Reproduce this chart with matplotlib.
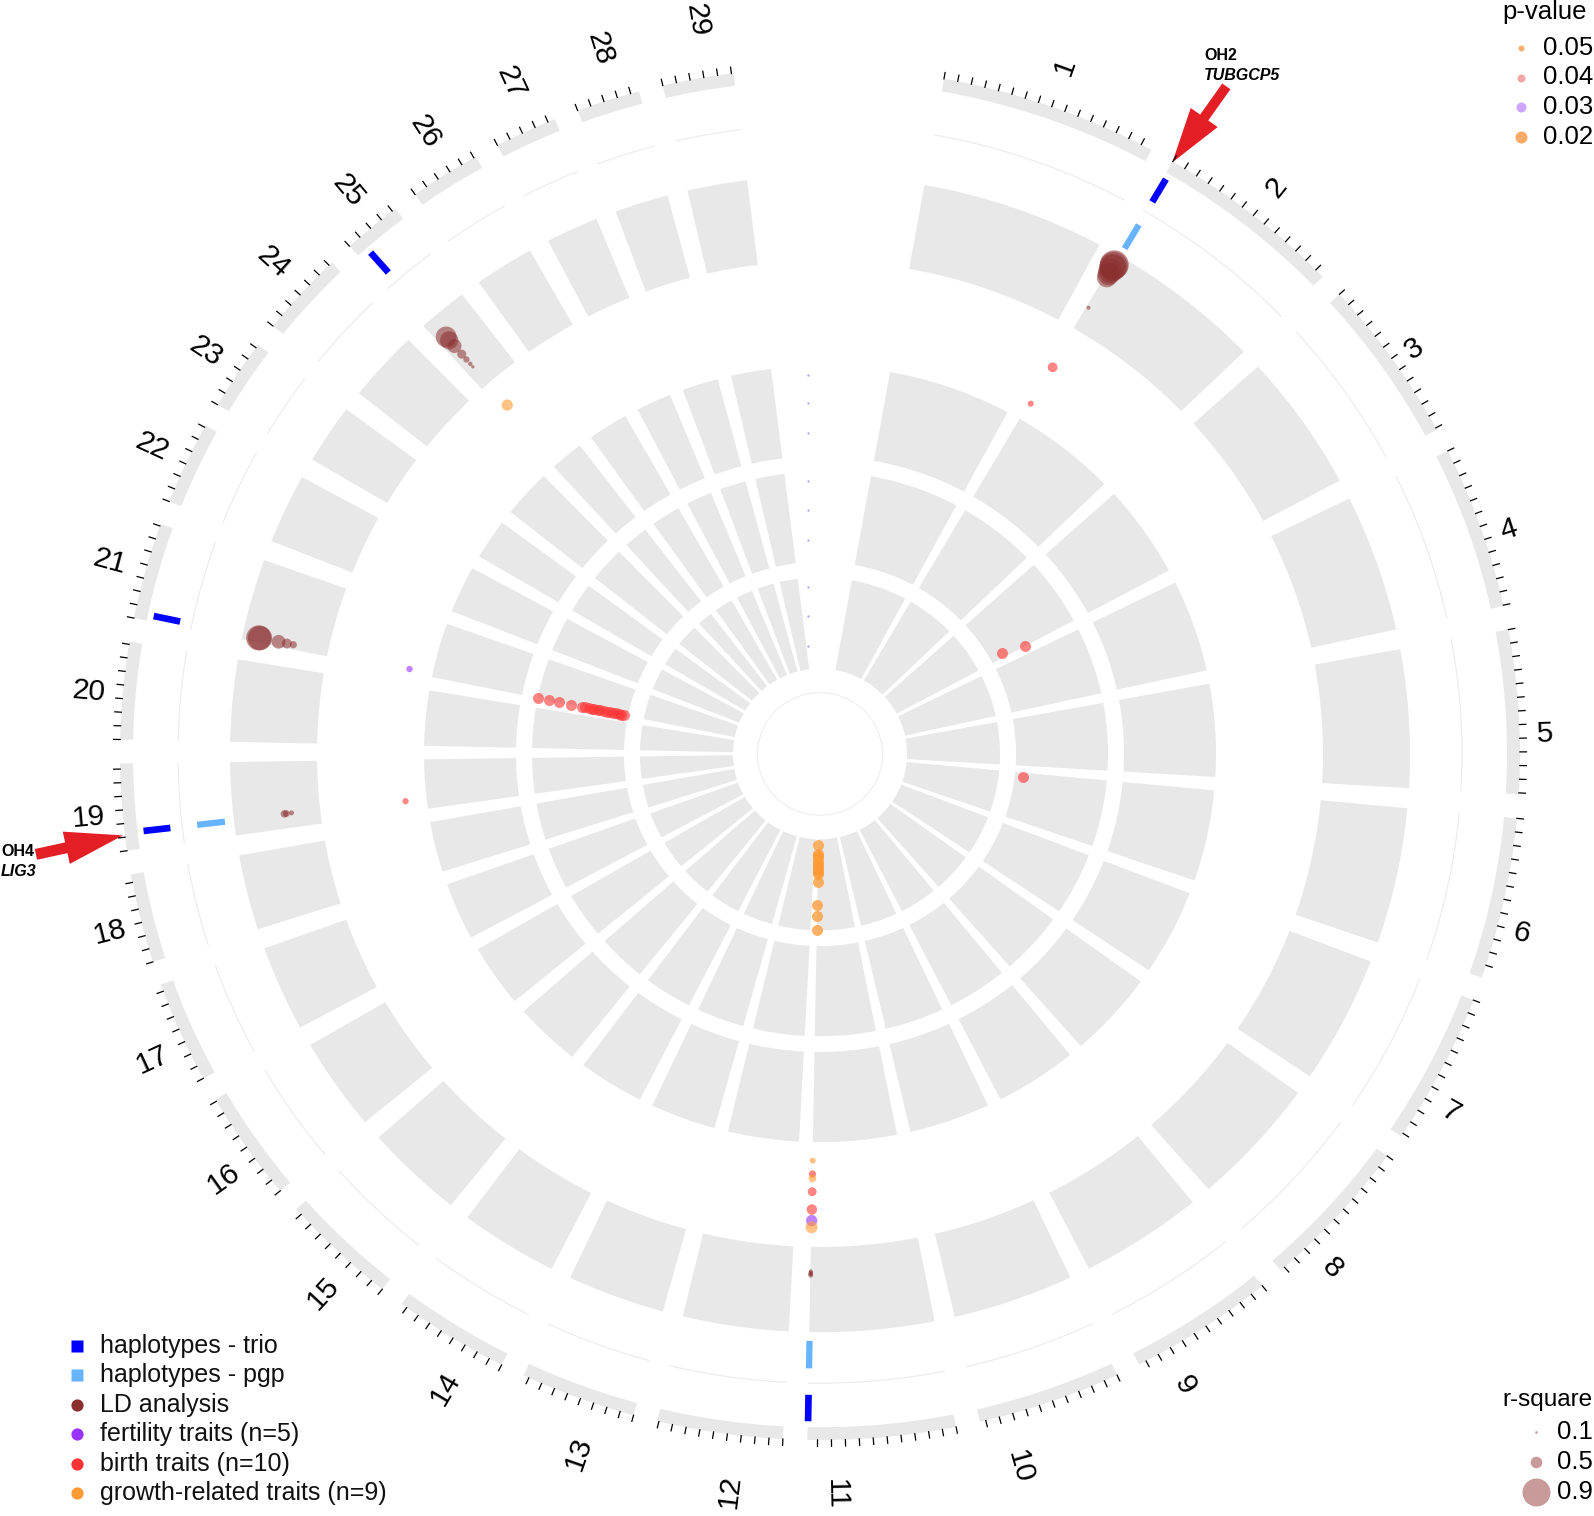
import numpy as np
import matplotlib.pyplot as plt
from matplotlib.patches import Polygon, FancyArrow

plt.rcParams['font.family'] = ['Liberation Sans', 'DejaVu Sans']

# chromosome sizes in Mb (bovine UMD3.1)
chroms = [str(i) for i in range(1, 30)]
chrom_len = [158.3, 137.1, 121.4, 120.7, 121.2, 119.5, 112.6, 113.4, 105.7, 104.3,
             107.3, 91.2, 84.2, 84.6, 85.3, 81.7, 75.2, 66.0, 64.1, 72.0,
             71.6, 61.4, 52.5, 62.7, 42.9, 51.7, 45.4, 46.3, 51.5]

# haplotypes (chromosome, position in Mb)
trio_chr = [2, 11, 19, 21, 25]
trio_pos = [2.3, 107.0, 13.0, 4.4, 8.3]
pgp_chr = [2, 11, 19]
pgp_pos = [2.6, 107.0, 13.0]

# LD analysis: chromosome, position, r-square
ld_chr = [2, 2, 2, 2, 2, 2, 2,
          25, 25, 25, 25, 25, 25, 25,
          21, 21, 21, 21, 21,
          19, 19, 19,
          11, 11, 11, 11]
ld_pos = [2.2, 2.2, 2.3, 2.1, 2.2, 2.3, 2.2,
          8.3, 8.3, 8.4, 8.4, 8.3, 8.3, 8.2,
          4.3, 4.4, 4.5, 4.5, 4.6,
          14.0, 14.1, 14.2,
          107.0, 107.0, 107.0, 107.0]
ld_r2 = [0.95, 0.93, 0.90, 0.84, 0.78, 0.72, 0.17,
         0.75, 0.68, 0.56, 0.39, 0.28, 0.19, 0.13,
         0.86, 0.84, 0.55, 0.42, 0.32,
         0.33, 0.30, 0.22,
         0.22, 0.20, 0.18, 0.16]

# single SNP associations (p-value track)
assoc_chr = [2, 2, 11, 11, 11, 11, 11, 11, 11, 19, 21, 25]
assoc_pos = [2.2, 2.2, 107.0, 107.0, 107.0, 107.0, 107.0, 107.0, 107.0, 13.0, 4.4, 8.3]
assoc_p = [0.031, 0.050, 0.050, 0.044, 0.042, 0.036, 0.028, 0.023, 0.020, 0.049, 0.048, 0.024]
assoc_trait = ['birth', 'birth', 'growth', 'birth', 'growth', 'birth', 'birth',
               'fertility', 'growth', 'birth', 'fertility', 'growth']

# inner rings: trait-level signals (scaled 0-1 within each ring)
fert_chr, fert_pos, fert_val = [], [], []
birth_chr = [21] * 19 + [3, 3, 6]
birth_pos = [0.3] * 19 + [110.0, 121.0, 10.5]
birth_val = [1.02, 0.89, 0.77, 0.63, 0.50, 0.46, 0.42, 0.38, 0.35, 0.31,
             0.28, 0.24, 0.20, 0.17, 0.13, 0.10, 0.06, 0.03, 0.0,
             0.10, 0.38, 0.05]
growth_chr = [11] * 14
growth_pos = [107.0] * 14
growth_val = [0.01, 0.12, 0.14, 0.17, 0.21, 0.23, 0.27, 0.29, 0.33, 0.36,
              0.45, 0.72, 0.85, 1.02]

COL = {'trio': '#0000FF', 'pgp': '#66B3FF', 'ld': '#8B2E2E',
       'fertility': '#9933FF', 'birth': '#FF3333', 'growth': '#FF9933'}
GRAY = '#E8E8E8'

# chromosome label placement (shift from sector middle in degrees, radius)
label_dtheta = [0.0, 0.2, 0.35, 1.0, 1.9, 2.4, 2.6, 3.35, 3.65, 3.8, 3.9,
                -1.4, -1.55, -1.8, -1.5, -1.1, -1.1, -0.5, -0.65, -0.3, -0.1,
                0.0, 0.2, 0.4, 0.4, 0.5, 0.55, 0.6, 0.74]
label_r = [743, 736, 724, 726, 725, 725, 729, 733, 740, 754, 756, 758, 754, 748,
           741, 737, 737, 733, 734, 734, 737, 738, 739, 742, 744, 748, 751, 753, 759]

W, H = 1594, 1516
cx, cy, sy = 820, 754, 0.98
gap = 2.0
start0, end_last = 10.2, 352.9
k = (end_last - start0 - gap * (len(chrom_len) - 1)) / sum(chrom_len)
starts = []
a = start0
for L in chrom_len:
    starts.append(a)
    a += L * k + gap


def ang(c, pos):
    return starts[c - 1] + np.asarray(pos) * k


def xy(r, th):
    t = np.radians(th)
    return cx + r * np.sin(t), cy - sy * r * np.cos(t)


def sector(ax, th1, th2, r1, r2, **kw):
    t = np.linspace(th1, th2, max(int(abs(th2 - th1) * 4), 2))
    xo, yo = xy(r2, t)
    xi, yi = xy(r1, t[::-1])
    ax.add_patch(Polygon(np.column_stack([np.r_[xo, xi], np.r_[yo, yi]]),
                         closed=True, **kw))


def s_px(radius):
    return (2 * np.asarray(radius) * 0.72) ** 2


fig = plt.figure(figsize=(W / 100, H / 100), dpi=100)
ax = fig.add_axes([0, 0, 1, 1])
ax.set_xlim(0, W)
ax.set_ylim(H, 0)
ax.axis('off')

# tracks
for i, L in enumerate(chrom_len):
    a1, a2 = starts[i], starts[i] + L * k
    sector(ax, a1, a2, 687, 700, fc=GRAY, ec='none')
    for r1, r2 in [(503, 590), (304, 396), (196, 288), (87, 180)]:
        sector(ax, a1, a2, r1, r2, fc=GRAY, ec='none')
    t = np.linspace(a1, a2, 100)
    ax.plot(*xy(642, t), color='#EBEBEB', lw=0.8)
    for m in np.arange(0, L, 10):
        ax.plot(*xy(np.array([700, 706.5]), ang(i + 1, m)), color='black', lw=0.9)
    # label
    th = a1 + L * k / 2 + label_dtheta[i]
    tt = np.radians(th)
    rot = np.degrees(np.arctan2(sy * np.cos(tt), np.sin(tt)))
    if rot > 90:
        rot -= 180
    elif rot <= -90:
        rot += 180
    lx, ly = xy(label_r[i], th)
    ax.text(lx, ly, chroms[i], rotation=rot, rotation_mode='anchor', ha='center',
            va='center', fontsize=21.5, color='black')

# center circle
t = np.linspace(0, 360, 300)
ax.plot(*xy(62.5, t), color='#EEEEEE', lw=0.8)

# faint axis ticks of the inner rings
for r in [387, 358, 328, 279, 249, 218, 170, 141, 110]:
    ax.scatter(cx - 12, cy - sy * r, s=3, color='#7777FF', alpha=0.6, lw=0)

# haplotypes
for c, p in zip(trio_chr, trio_pos):
    ax.plot(*xy(np.array([654, 681]), ang(c, p)), color=COL['trio'], lw=4.8,
            solid_capstyle='butt')
for c, p in zip(pgp_chr, pgp_pos):
    ax.plot(*xy(np.array([599, 627]), ang(c, p)), color=COL['pgp'], lw=4.5,
            solid_capstyle='butt')

# LD analysis
th = np.array([ang(c, p) for c, p in zip(ld_chr, ld_pos)])
r2 = np.array(ld_r2)
x, y = xy(517.5 + 65.3 * r2, th)
ax.scatter(x, y, s=s_px(1.0 + 14.5 * r2 ** 1.5), color=COL['ld'], alpha=0.55, lw=0)

# p-value track
pv = np.array(assoc_p)
th = np.array([ang(c, p) for c, p in zip(assoc_chr, assoc_pos)])
x, y = xy(415 + (0.05 - pv) / 0.03 * 68, th)
ax.scatter(x, y, s=s_px(3 + (0.05 - pv) * 100),
           color=[COL[tr] for tr in assoc_trait], alpha=0.6, lw=0)

# inner rings
for chs, pos, val, r0, trait, al in [(fert_chr, fert_pos, fert_val, 308, 'fertility', 0.6),
                                     (birth_chr, birth_pos, birth_val, 200, 'birth', 0.6),
                                     (growth_chr, growth_pos, growth_val, 92, 'growth', 0.75)]:
    if not chs:
        continue
    th = np.array([ang(c, p) for c, p in zip(chs, pos)])
    x, y = xy(r0 + 86 * np.array(val), th)
    ax.scatter(x, y, s=s_px(5.5), color=COL[trait], alpha=al, lw=0)

# arrows
RED = '#E31E24'
tx, ty = xy(699, ang(2, 0))
ax.add_patch(FancyArrow(tx + 54, ty - 76, -54, 76, width=10, head_width=33,
                        head_length=55, length_includes_head=True, color=RED, lw=0))
ax.text(1204, 56, 'OH2', fontsize=11.5, fontweight='bold', ha='left', va='center')
ax.text(1204, 75, 'TUBGCP5', fontsize=11.5, fontweight='bold', style='italic',
        ha='left', va='center')
tx, ty = xy(702, ang(19, 11.5))
ax.add_patch(FancyArrow(tx - 87, ty + 19, 87, -19, width=11, head_width=33,
                        head_length=58, length_includes_head=True, color=RED, lw=0))
ax.text(1, 851, 'OH4', fontsize=11.5, fontweight='bold', ha='left', va='center')
ax.text(1, 871, 'LIG3', fontsize=11.5, fontweight='bold', style='italic',
        ha='left', va='center')

# legend: tracks
leg_labels = ['haplotypes - trio', 'haplotypes - pgp', 'LD analysis',
              'fertility traits (n=5)', 'birth traits (n=10)', 'growth-related traits (n=9)']
leg_colors = [COL['trio'], COL['pgp'], COL['ld'], COL['fertility'], COL['birth'], COL['growth']]
leg_marker = ['s', 's', 'o', 'o', 'o', 'o']
for j, (lab, col, mk) in enumerate(zip(leg_labels, leg_colors, leg_marker)):
    yy = 1346 + j * 29.4
    ax.plot(77, yy, marker=mk, ms=8.8, color=col, mec='none', ls='none')
    ax.text(100, yy, lab, fontsize=18, ha='left', va='center', color='#111111')

# legend: p-value
pv_labels = ['0.05', '0.04', '0.03', '0.02']
pv_cols = ['#FAAF6E', '#F5A5A5', '#CDA5FA', '#FAAA64']
pv_rad = [3, 4, 5, 6]
ax.text(1502, 12, 'p-value', fontsize=18.5, ha='left', va='center')
for j in range(4):
    yy = 48 + j * 29.5
    ax.scatter(1521, yy, s=s_px(pv_rad[j]), color=pv_cols[j], lw=0)
    ax.text(1543, yy, pv_labels[j], fontsize=18.5, ha='left', va='center')

# legend: r-square
r2_labels = ['0.1', '0.5', '0.9']
r2_rad = [1.3, 5.8, 14]
ax.text(1502, 1400, 'r-square', fontsize=17.5, ha='left', va='center')
for j in range(3):
    yy = 1432 + j * 30
    ax.scatter(1536, yy, s=s_px(r2_rad[j]), color='#C99A9A', lw=0)
    ax.text(1557, yy, r2_labels[j], fontsize=18.5, ha='left', va='center')

fig.savefig('out.png', dpi=100)
